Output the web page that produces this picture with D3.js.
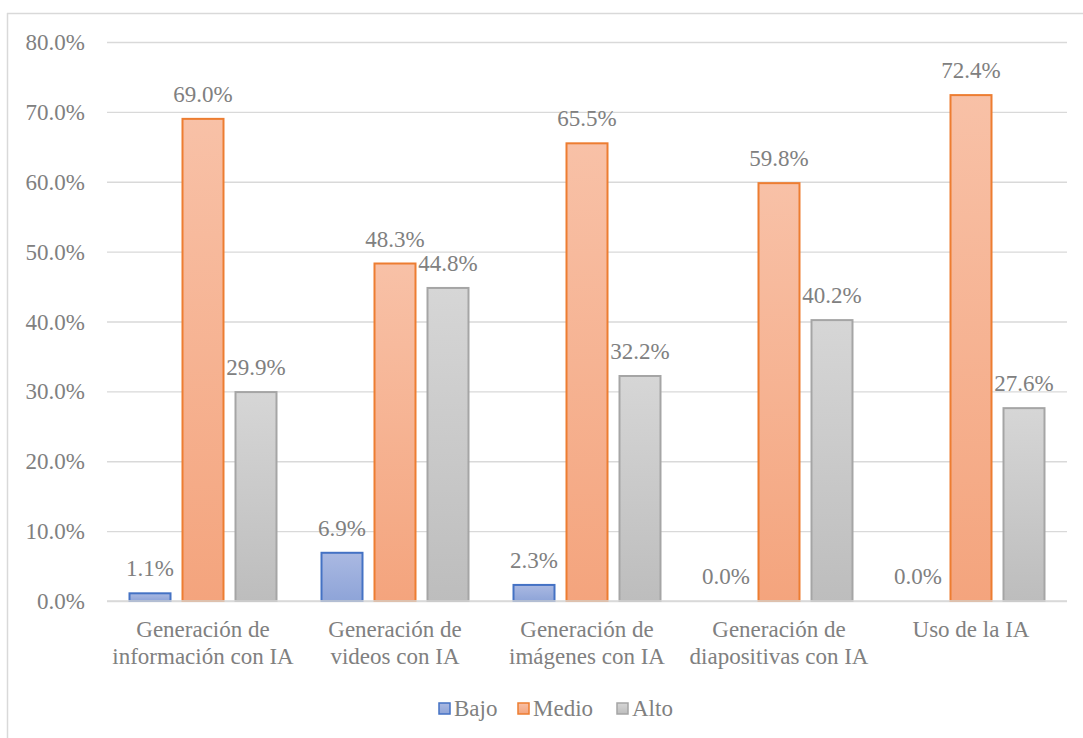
<!DOCTYPE html>
<meta charset="utf-8">
<style>
body { margin: 0; background: #fff; }
.grid line { stroke: #d9d9d9; stroke-width: 1.3; }
.grid .domain { display: none; }
</style>
<body>
<div id="chart"></div>
<script src="https://d3js.org/d3.v7.min.js"></script>
<script>
// datos
var categories = [
  ["Generación de", "información con IA"],
  ["Generación de", "videos con IA"],
  ["Generación de", "imágenes con IA"],
  ["Generación de", "diapositivas con IA"],
  ["Uso de la IA"]
];
var series = ["Bajo", "Medio", "Alto"];
var bajo = [0.011, 0.069, 0.023, 0.0, 0.0];
var medio = [0.690, 0.483, 0.655, 0.598, 0.724];
var alto = [0.299, 0.448, 0.322, 0.402, 0.276];
var yTicks = [0, 0.1, 0.2, 0.3, 0.4, 0.5, 0.6, 0.7, 0.8];

var values = { Bajo: bajo, Medio: medio, Alto: alto };
var colors = {
  Bajo:  { top: "#aab9e2", bottom: "#8ea4d8", stroke: "#4472c4" },
  Medio: { top: "#f8c1a7", bottom: "#f4a47d", stroke: "#ed7d31" },
  Alto:  { top: "#d6d6d6", bottom: "#bdbdbd", stroke: "#a5a5a5" }
};
var FONT = "'Liberation Serif'";
var FS = 23;
var txtColor = "#808080";

var W = 1083, H = 738;
var margin = { top: 42, left: 107, right: 16, bottom: 137 };
var width = W - margin.left - margin.right,
    height = H - margin.top - margin.bottom;

var svg = d3.select("#chart").append("svg")
    .attr("width", W)
    .attr("height", H)
    .attr("font-family", FONT);

// marco del grafico (solo borde superior e izquierdo visibles)
svg.append("line").attr("x1", 7.5).attr("x2", 7.5).attr("y1", 13).attr("y2", H)
    .attr("stroke", "#d9d9d9").attr("stroke-width", 1.5);
svg.append("line").attr("x1", 7).attr("x2", W).attr("y1", 13.5).attr("y2", 13.5)
    .attr("stroke", "#d9d9d9").attr("stroke-width", 1.5);

var defs = svg.append("defs");
series.forEach(function(s) {
  var g = defs.append("linearGradient")
      .attr("id", "grad" + s)
      .attr("x1", 0).attr("y1", 0).attr("x2", 0).attr("y2", 1);
  g.append("stop").attr("offset", "0%").attr("stop-color", colors[s].top);
  g.append("stop").attr("offset", "100%").attr("stop-color", colors[s].bottom);
});

var g = svg.append("g")
    .attr("transform", "translate(" + margin.left + "," + margin.top + ")");

var x0 = d3.scaleBand()
    .domain(d3.range(categories.length))
    .range([0, width]);

var x1 = d3.scaleBand()
    .domain(series)
    .range([21.5, x0.bandwidth() - 21.5])
    .paddingInner(10 / 53);

var y = d3.scaleLinear()
    .domain([0, 0.8])
    .range([height, 0]);

// lineas de cuadricula
g.append("g")
    .attr("class", "grid")
    .call(d3.axisLeft(y).tickValues(yTicks).tickSize(-width).tickFormat(""))
  .selectAll(".tick line").attr("x1", 0);

// etiquetas eje y
g.selectAll(".ylbl")
  .data(yTicks)
  .enter().append("text")
    .attr("class", "ylbl")
    .attr("x", -22)
    .attr("y", function(d) { return y(d); })
    .attr("dy", "0.35em")
    .attr("text-anchor", "end")
    .attr("font-family", FONT)
    .attr("font-size", FS)
    .attr("fill", txtColor)
    .text(function(d) { return d3.format(".1%")(d); });

// barras
var groups = g.selectAll(".cat")
  .data(categories)
  .enter().append("g")
    .attr("class", "cat")
    .attr("transform", function(d, i) { return "translate(" + x0(i) + ",0)"; });

series.forEach(function(s) {
  groups.each(function(d, i) {
    var v = values[s][i];
    var sel = d3.select(this);
    if (v > 0) {
      sel.append("rect")
        .attr("x", x1(s) + 1)
        .attr("y", y(v))
        .attr("width", x1.bandwidth() - 2)
        .attr("height", height - y(v))
        .attr("fill", "url(#grad" + s + ")")
        .attr("stroke", colors[s].stroke)
        .attr("stroke-width", 2);
    }
    sel.append("text")
      .attr("x", x1(s) + x1.bandwidth() / 2)
      .attr("y", y(v) - 17)
      .attr("text-anchor", "middle")
      .attr("font-family", FONT)
      .attr("font-size", FS)
      .attr("fill", txtColor)
      .text(d3.format(".1%")(v));
  });
});

// eje x
g.append("line")
    .attr("x1", 0).attr("x2", width)
    .attr("y1", height).attr("y2", height)
    .attr("stroke", "#d9d9d9").attr("stroke-width", 1.5);

groups.append("text")
    .attr("x", x0.bandwidth() / 2)
    .attr("y", height + 36)
    .attr("text-anchor", "middle")
    .attr("font-family", FONT)
    .attr("font-size", FS)
    .attr("fill", txtColor)
    .selectAll("tspan")
    .data(function(d) { return d; })
    .enter().append("tspan")
      .attr("x", x0.bandwidth() / 2)
      .attr("dy", function(d, i) { return i === 0 ? 0 : 27; })
      .text(function(d) { return d; });

// leyenda
var legend = svg.append("g").attr("transform", "translate(0,709)");
var legX = [438, 517, 616];
series.forEach(function(s, i) {
  legend.append("rect")
    .attr("x", legX[i] + 1).attr("y", -6)
    .attr("width", 11).attr("height", 11)
    .attr("fill", "url(#grad" + s + ")")
    .attr("stroke", colors[s].stroke)
    .attr("stroke-width", 1.5);
  legend.append("text")
    .attr("x", legX[i] + 16)
    .attr("y", 7)
    .attr("font-family", FONT)
    .attr("font-size", FS)
    .attr("fill", txtColor)
    .text(s);
});
</script>
</body>
